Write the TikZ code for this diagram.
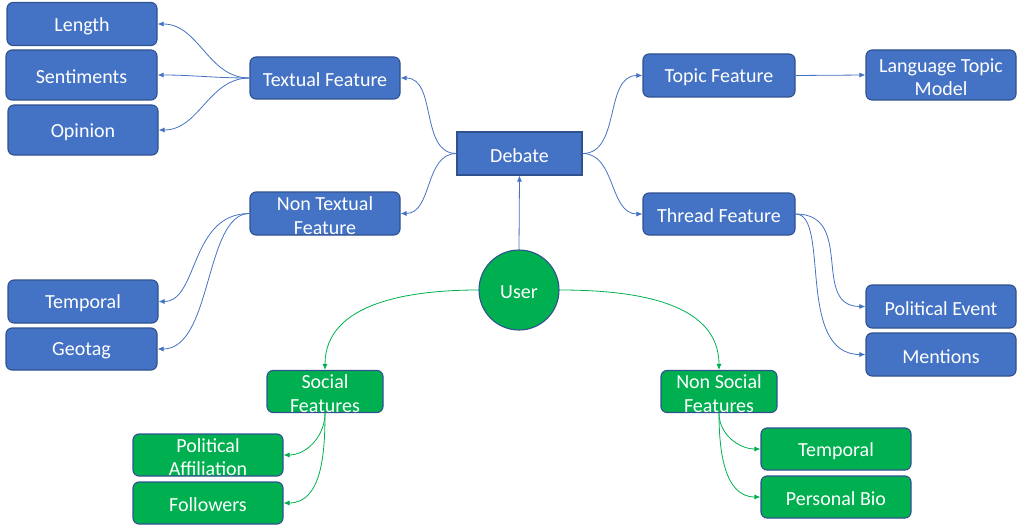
\documentclass[tikz,border=0pt]{standalone}
\usepackage{fontspec}
\setmainfont{Carlito}
\usetikzlibrary{arrows.meta}
\definecolor{bfill}{HTML}{4472C4}
\definecolor{bline}{HTML}{2F528F}
\definecolor{gfill}{HTML}{00B050}
\tikzset{
  lbl/.style={text=white, inner sep=0pt, align=center, yshift=-2pt,
    font=\fontsize{20}{23.5}\selectfont},
  box/.style={draw=bline, line width=1.1pt, rounded corners=6pt, inner sep=0pt},
  bbox/.style={box, fill=bfill, minimum width=150pt, minimum height=43pt},
  gbox/.style={box, fill=gfill, minimum width=150pt, minimum height=42pt},
  conn/.style={line width=0.8pt, -{Latex[length=6pt,width=5pt]}},
  bconn/.style={conn, draw=bfill},
  gconn/.style={conn, draw=gfill},
}
\begin{document}
\begin{tikzpicture}[x=1pt,y=-1pt]
\useasboundingbox (0,0) rectangle (1018,527);
% blue nodes
\node[bbox, label={[lbl]center:Length}] (len) at (82,24) {};
\node[bbox, minimum width=151pt, minimum height=50pt, label={[lbl]center:Sentiments}] (sen) at (81.5,75) {};
\node[bbox, minimum height=50pt, label={[lbl]center:Opinion}] (opi) at (83,130) {};
\node[bbox, minimum height=42pt, label={[lbl]center:Textual Feature}] (tf) at (325,78) {};
\node[draw=bline, line width=1.1pt, fill=bfill, minimum width=125pt, minimum height=43pt, inner sep=0pt, label={[lbl]center:Debate}] (deb) at (519.5,153.5) {};
\node[bbox, minimum width=152pt, label={[lbl]center:Topic Feature}] (top) at (719,75.5) {};
\node[bbox, minimum height=50pt, label={[lbl]center:Language Topic\\Model}] (ltm) at (941,75) {};
\node[bbox, label={[lbl]center:Non Textual\\Feature}] (ntf) at (325,213.5) {};
\node[bbox, minimum width=152pt, minimum height=42pt, label={[lbl]center:Thread Feature}] (thr) at (719,214) {};
\node[bbox, label={[lbl]center:Temporal}] (tmp) at (83,301.5) {};
\node[bbox, minimum width=151pt, minimum height=42pt, label={[lbl]center:Geotag}] (geo) at (81.5,349) {};
\node[bbox, label={[lbl]center:Political Event}] (pev) at (941,306.5) {};
\node[bbox, label={[lbl]center:Mentions}] (men) at (941,354.5) {};
% green nodes
\node[circle, draw=bline, line width=1.1pt, fill=gfill, minimum size=80pt, inner sep=0pt, label={[lbl]center:User}] (usr) at (519,290) {};
\node[gbox, minimum width=116pt, label={[lbl]center:Social\\Features}] (soc) at (325,391.5) {};
\node[gbox, minimum width=116pt, label={[lbl]center:Non Social\\Features}] (nsoc) at (719,391.5) {};
\node[gbox, label={[lbl]center:Political\\Affiliation}] (paf) at (208,455) {};
\node[gbox, label={[lbl]center:Followers}] (fol) at (208,503) {};
\node[gbox, label={[lbl]center:Temporal}] (tmp2) at (836,449) {};
\node[gbox, label={[lbl]center:Personal Bio}] (pbio) at (836,497) {};
% blue connectors
\draw[bconn] (tf.west) to[out=180,in=0] (len.east);
\draw[bconn] (tf.west) to[out=180,in=0] (sen.east);
\draw[bconn] (tf.west) to[out=180,in=0] (opi.east);
\draw[bconn] (deb.west) to[out=180,in=0] (tf.east);
\draw[bconn] (deb.west) to[out=180,in=0] (ntf.east);
\draw[bconn] (deb.east) to[out=0,in=180] (top.west);
\draw[bconn] (deb.east) to[out=0,in=180] (thr.west);
\draw[bconn] (top.east) -- (ltm.west);
\draw[bconn] (thr.east) .. controls +(60,0) and +(-55,0) .. (pev.west);
\draw[bconn] (thr.east) .. controls +(35,0) and +(-70,0) .. (men.west);
\draw[bconn] (ntf.west) .. controls +(-60,0) and +(40,0) .. (tmp.east);
\draw[bconn] (ntf.west) .. controls +(-45,0) and +(55,0) .. (geo.east);
\draw[bconn] (usr.north) -- (deb.south);
% green connectors
\draw[gconn] (usr.west) to[out=180,in=90] (soc.north);
\draw[gconn] (usr.east) to[out=0,in=90] (nsoc.north);
\draw[gconn] (soc.south) to[out=-90,in=0] (paf.east);
\draw[gconn] (soc.south) to[out=-90,in=0] (fol.east);
\draw[gconn] (nsoc.south) to[out=-90,in=180] (tmp2.west);
\draw[gconn] (nsoc.south) to[out=-90,in=180] (pbio.west);
\end{tikzpicture}
\end{document}
